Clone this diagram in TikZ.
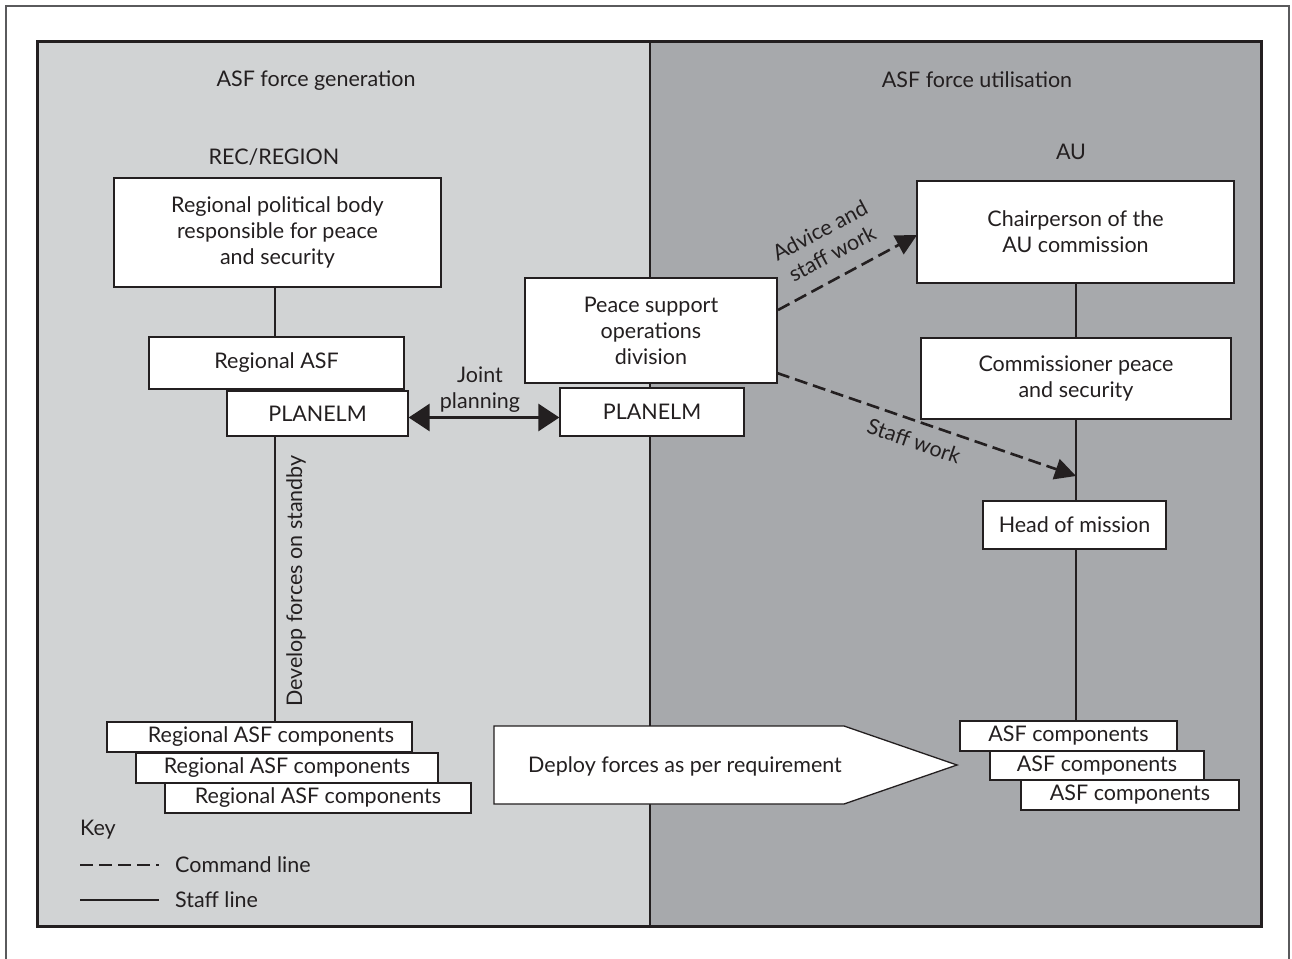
\documentclass[tikz,border=0pt]{standalone}
\usepackage{fontspec}
\setmainfont{Lato}
\usetikzlibrary{arrows.meta}
\definecolor{lpanel}{HTML}{D1D3D4}
\definecolor{dpanel}{HTML}{A7A9AC}
\definecolor{ink}{HTML}{231F20}
\definecolor{outerln}{HTML}{5A5A5C}
\begin{document}
\begin{tikzpicture}[x=1pt,y=-1pt,
  every node/.style={font=\fontsize{21.5}{26}\selectfont, text=ink},
  box/.style={draw=ink, line width=1.3pt, fill=white, inner sep=0pt, align=center},
  lbl/.style={inner sep=0pt, align=center},
  staffln/.style={draw=ink, line width=2pt},
  cmdln/.style={draw=ink, line width=2.6pt, dash pattern=on 13pt off 6pt},
  cmdarrow/.style={cmdln, -{Triangle[length=21pt,width=21pt]}},
  jointarrow/.style={draw=ink, line width=3pt, {Triangle[length=21pt,width=27pt]}-{Triangle[length=21pt,width=27pt]}}]
\useasboundingbox (0,0) rectangle (1292,958);
\fill[white] (0,0) rectangle (1292,958);
% outer border
\draw[outerln, line width=1.5pt] (6,962) -- (6,6) -- (1289,6) -- (1289,962);
% panels
\fill[lpanel] (37,42) rectangle (650,926);
\fill[dpanel] (650,42) rectangle (1261,926);
\draw[ink, line width=2.5pt] (650,42) -- (650,926);
\draw[ink, line width=3pt] (37,42) rectangle (1261,926);

% headings
\node[lbl] (gen) at (316,81) {ASF force generation};
\node[lbl] (util) at (977,80) {ASF force utilisation};
\node[lbl] (rec) at (274,157) {REC/REGION};
\node[lbl] (au) at (1071,152) {AU};

% stems
\coordinate (stemL) at (275,0);
\coordinate (stemR) at (1076,0);

% left boxes
\node[box, minimum width=327pt, minimum height=109pt] (pol) at (277.5,232.5) {Regional political body\\responsible for peace\\and security};
\node[box, minimum width=255pt, minimum height=52pt] (rasf) at (276.5,363) {Regional ASF};
\node[box, minimum width=181pt, minimum height=45pt] (plL) at (317.5,413.5) {PLANELM};
\node[box, minimum width=305pt, minimum height=30pt] (rc1) at (259.5,737) {\hspace*{23pt}Regional ASF components};
\node[box, minimum width=302pt, minimum height=30pt] (rc2) at (287,768) {Regional ASF components};
\node[box, minimum width=306pt, minimum height=30pt] (rc3) at (318,798) {Regional ASF components};

% centre boxes
\node[box, minimum width=252pt, minimum height=105pt] (pso) at (651,330.5) {Peace support\\operations\\division};
\node[box, minimum width=184pt, minimum height=48pt] (plC) at (652,412) {PLANELM};

% right boxes
\node[box, minimum width=317pt, minimum height=102pt] (chair) at (1075.5,232) {Chairperson of the\\AU commission};
\node[box, minimum width=310pt, minimum height=81pt] (comm) at (1076,378.5) {Commissioner peace\\and security};
\node[box, minimum width=183pt, minimum height=48pt] (hom) at (1074.5,525) {Head of mission};
\node[box, minimum width=217pt, minimum height=30pt] (b1) at (1068.5,736) {ASF components};
\node[box, minimum width=214pt, minimum height=29pt] (b2) at (1097,765.5) {ASF components};
\node[box, minimum width=218pt, minimum height=30pt] (b3) at (1130,795) {ASF components};

% staff lines
\draw[staffln] (pol.south -| stemL) -- (rasf.north -| stemL);
\draw[staffln] (plL.south -| stemL) -- (rc1.north -| stemL);
\draw[staffln] (chair.south -| stemR) -- (comm.north -| stemR);
\draw[staffln] (comm.south -| stemR) -- (hom.north -| stemR);
\draw[staffln] (hom.south -| stemR) -- (b1.north -| stemR);

% develop label
\node[lbl, rotate=90] (develop) at (296,581) {Develop forces on standby};

% joint planning
\draw[jointarrow] ([yshift=-4pt]plL.east) -- ([yshift=-4pt]plL.east -| plC.west);
\node[lbl] (joint) at (480,390) {Joint\\planning};

% command arrows
\coordinate (a1s) at (778,310);
\coordinate (a1e) at (917,235);
\coordinate (a2s) at (777,373);
\coordinate (a2e) at (1076,476);
\draw[cmdarrow] (a1s) -- (a1e);
\draw[cmdarrow] (a2s) -- (a2e);
\node[lbl, rotate=28] (advice) at (826,242) {Advice and\\staff work};
\node[lbl, rotate=-19] (staffwork) at (914,441) {Staff work};

% deploy arrow
\draw[ink, line width=1.3pt, fill=white] (494,726) -- (844,726) -- (957,765) -- (844,804) -- (494,804) -- cycle;
\node[lbl] (deploy) at (685,766) {Deploy forces as per requirement};

% key
\node[lbl, anchor=west] (key) at (80,830) {Key};
\coordinate (k1a) at (80,865);
\coordinate (k1b) at (159,865);
\coordinate (k2a) at (80,900);
\coordinate (k2b) at (159,900);
\draw[cmdln, line width=2pt] (k1a) -- (k1b);
\draw[staffln] (k2a) -- (k2b);
\node[lbl, anchor=west] (kcmd) at (175,865) {Command line};
\node[lbl, anchor=west] (kstaff) at (175,900) {Staff line};
\end{tikzpicture}
\end{document}
